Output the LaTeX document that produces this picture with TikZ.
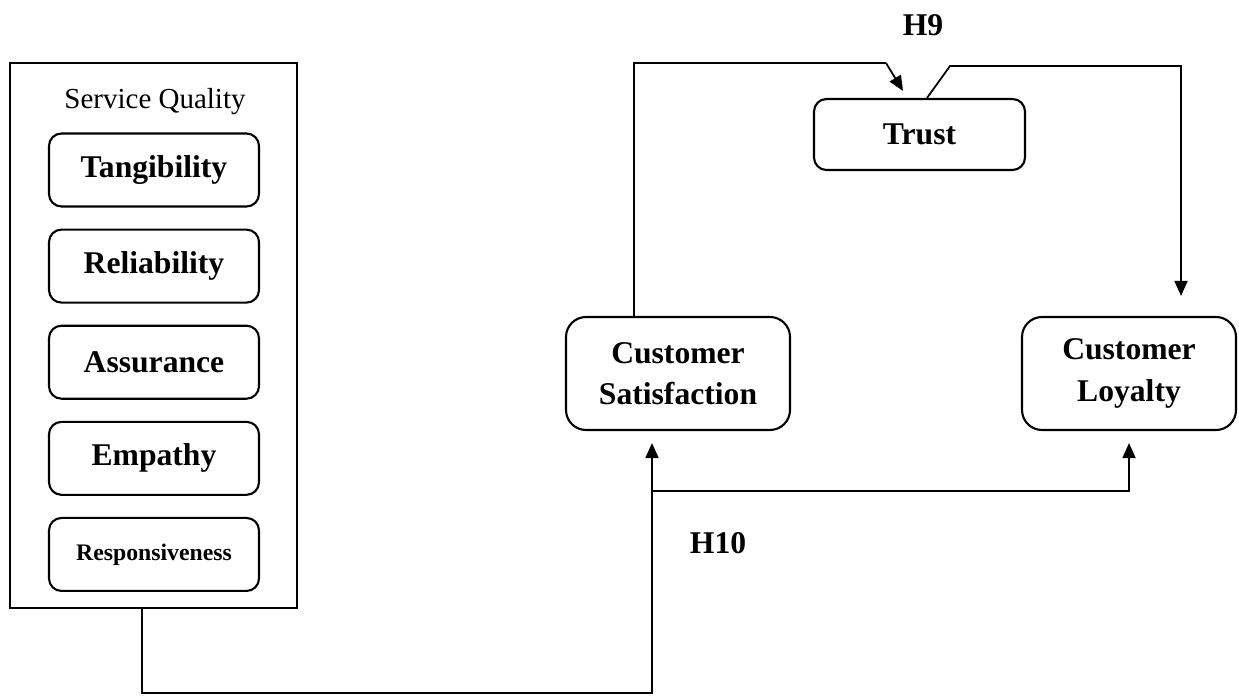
\documentclass[tikz,border=0pt]{standalone}
\usepackage{fontspec}
\setmainfont{Liberation Serif}
\usetikzlibrary{shapes,arrows.meta,positioning,calc}

\begin{document}
\begin{tikzpicture}[
 outer/.style={rectangle, draw, line width=1.3pt, minimum width=5.74cm, minimum height=10.9cm},
 dim/.style={rectangle, draw, rounded corners=0.25cm, line width=1.2pt, minimum width=4.2cm, minimum height=1.46cm, align=center, font=\fontsize{18}{21}\selectfont\bfseries},
 construct/.style={rectangle, draw, rounded corners=0.4cm, line width=1.2pt, minimum height=2.26cm, align=center, font=\fontsize{18}{23.5}\selectfont\bfseries},
 arrow/.style={-{Triangle[length=0.3cm, width=0.26cm]}, line width=1pt},
 link/.style={line width=1pt},
 hyp/.style={font=\fontsize{18}{21}\selectfont\bfseries}
]
\useasboundingbox (0,0) rectangle (24.78,13.94);

% Service quality dimensions
\node[outer] (sq) at (3.07,7.23) {};
\node[font=\fontsize{16.5}{20}\selectfont] (sqtitle) at (3.1,11.9) {Service Quality};
\node[dim] (tang) at (3.08,10.54) {Tangibility};
\node[dim, below=0.42cm of tang] (reli) {Reliability};
\node[dim, below=0.42cm of reli] (assu) {Assurance};
\node[dim, below=0.42cm of assu] (empa) {Empathy};
\node[dim, below=0.42cm of empa, font=\fontsize{13.5}{16}\selectfont\bfseries] (resp) {Responsiveness};

% Constructs
\node[construct, minimum width=4.48cm] (cs) at (13.56,6.47) {Customer\\Satisfaction};
\node[construct, minimum width=4.28cm] (cl) at (22.58,6.47) {Customer\\Loyalty};
\node[dim, minimum width=4.22cm, minimum height=1.42cm] (trust) at (18.39,11.25) {Trust};

% Hypothesis labels
\node[hyp] (h9) at (18.46,13.44) {H9};
\node[hyp] (h10) at (14.36,3.08) {H10};

% Connectors
\coordinate (sqout) at ([xshift=-0.23cm]sq.south);
\coordinate (csin) at ([xshift=-0.52cm, yshift=-0.24cm]cs.south);
\coordinate (branch) at ([xshift=-0.52cm, yshift=-1.2cm]cs.south);
\draw[arrow] (sqout) -- ++(0,-1.68) -| (csin);
\draw[arrow, shorten >=0.24cm] (branch) -| (cl.south);

\coordinate (csout) at ([xshift=-0.88cm]cs.north);
\coordinate (trustin) at ([xshift=-0.33cm, yshift=0.14cm]trust.north);
\draw[link] (csout) |- (17.72,12.68) coordinate (bend1);
\draw[arrow] (bend1) -- (trustin);

\coordinate (trustout) at ([xshift=0.15cm]trust.north);
\coordinate (clin) at ([xshift=1.04cm, yshift=0.4cm]cl.north);
\draw[arrow] (trustout) -- (19.0,12.62) -| (clin);

\end{tikzpicture}
\end{document}
